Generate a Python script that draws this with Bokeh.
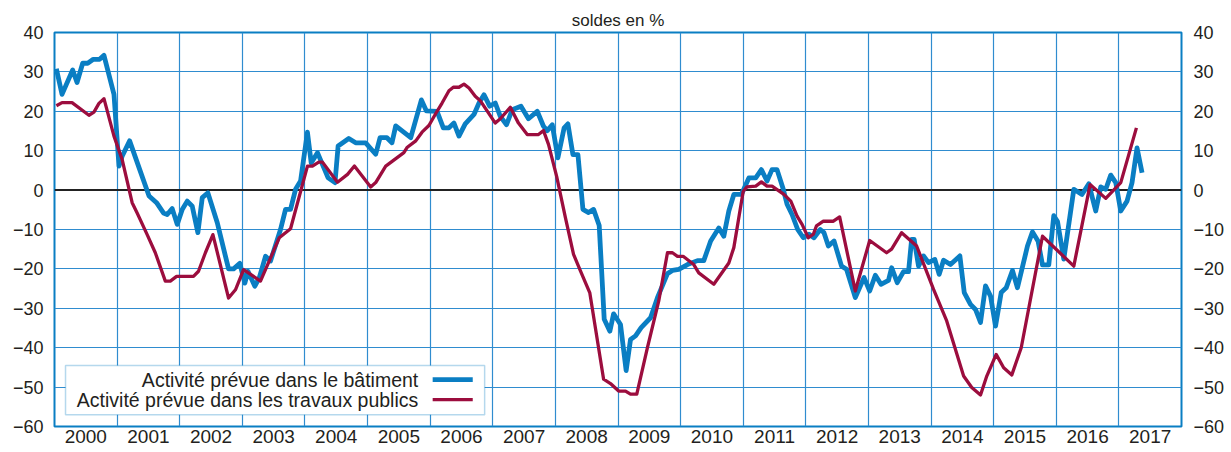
from bokeh.plotting import figure
from bokeh.models import Range1d, FixedTicker, Label, BoxAnnotation, Span, LinearAxis
from bokeh.embed import file_html
from bokeh.resources import INLINE

# ---------------- data ----------------
years = list(range(2000, 2018))
year_labels = [str(y) for y in years]
y_ticks = [40, 30, 20, 10, 0, -10, -20, -30, -40, -50, -60]
y_tick_labels = ["40", "30", "20", "10", "0", "\u221210", "\u221220", "\u221230", "\u221240", "\u221250", "\u221260"]
unit_label = "soldes en %"
legend_labels = ["Activit\u00e9 pr\u00e9vue dans le b\u00e2timent",
                 "Activit\u00e9 pr\u00e9vue dans les travaux publics"]

# Activité prévue dans le bâtiment (date as decimal year, balance in %)
blue_t = [2000.03, 2000.12, 2000.29, 2000.36, 2000.45, 2000.53, 2000.62, 2000.72, 2000.79, 2000.95,
          2001.03, 2001.08, 2001.20, 2001.35, 2001.51, 2001.63, 2001.74, 2001.80, 2001.88, 2001.96,
          2002.04, 2002.12, 2002.20, 2002.29, 2002.36, 2002.45, 2002.60, 2002.78, 2002.86, 2002.96,
          2003.04, 2003.09, 2003.20, 2003.27, 2003.37, 2003.45, 2003.61, 2003.69, 2003.77, 2003.85, 2003.93,
          2004.04, 2004.10, 2004.20, 2004.37, 2004.48, 2004.53, 2004.70, 2004.81, 2004.97,
          2005.13, 2005.20, 2005.31, 2005.39, 2005.45, 2005.69, 2005.86, 2005.94,
          2006.11, 2006.21, 2006.30, 2006.38, 2006.46, 2006.56, 2006.70, 2006.78, 2006.86, 2006.95,
          2007.04, 2007.12, 2007.22, 2007.31, 2007.45, 2007.57, 2007.71, 2007.81, 2007.87, 2007.95,
          2008.04, 2008.14, 2008.20, 2008.28, 2008.36, 2008.44, 2008.53, 2008.61, 2008.70, 2008.78, 2008.87, 2008.93,
          2009.04, 2009.13, 2009.20, 2009.28, 2009.37, 2009.52, 2009.63, 2009.79, 2009.87, 2009.97,
          2010.11, 2010.27, 2010.37, 2010.48, 2010.61, 2010.69, 2010.77, 2010.85, 2010.97,
          2011.09, 2011.20, 2011.29, 2011.38, 2011.46, 2011.54, 2011.64, 2011.70, 2011.78, 2011.87, 2011.96,
          2012.05, 2012.13, 2012.23, 2012.29, 2012.36, 2012.45, 2012.57, 2012.65, 2012.79, 2012.93,
          2013.02, 2013.11, 2013.20, 2013.32, 2013.37, 2013.46, 2013.56, 2013.64, 2013.69, 2013.73, 2013.80, 2013.88, 2013.96,
          2014.06, 2014.13, 2014.20, 2014.31, 2014.46, 2014.53, 2014.63, 2014.71, 2014.79, 2014.87, 2014.95,
          2015.03, 2015.12, 2015.20, 2015.30, 2015.38, 2015.54, 2015.62, 2015.71, 2015.78, 2015.88, 2015.96,
          2016.02, 2016.12, 2016.28, 2016.41, 2016.52, 2016.63, 2016.71, 2016.79, 2016.87, 2016.95,
          2017.03, 2017.13, 2017.21, 2017.29, 2017.37]
blue_v = [30.8, 24.3, 30.5, 27.3, 32.2, 32.2, 33.2, 33.2, 34.2, 24.3,
          6.1, 8.6, 12.5, 5.7, -1.5, -3.2, -5.8, -6.2, -4.7, -8.7,
          -4.9, -2.8, -4.1, -10.8, -1.9, -0.7, -8.3, -20.0, -20.0, -18.6,
          -23.6, -20.6, -24.4, -22.3, -16.8, -18.0, -10.0, -4.9, -4.9, 0.2, 2.3,
          14.7, 6.9, 9.5, 3.1, 1.9, 11.2, 13.1, 12.0, 12.0,
          9.1, 13.3, 13.3, 12.0, 16.3, 13.3, 22.9, 20.1,
          20.0, 15.8, 15.8, 17.0, 13.7, 16.8, 19.2, 22.1, 24.2, 21.3,
          22.1, 18.7, 16.6, 20.4, 21.3, 18.1, 20.0, 16.2, 15.1, 16.6,
          8.2, 15.8, 16.8, 9.0, 9.0, -4.9, -5.7, -4.9, -9.0, -32.8, -35.8, -31.4,
          -34.1, -45.8, -37.9, -37.0, -34.9, -32.4, -27.3, -21.2, -20.4, -20.1,
          -18.9, -17.9, -17.9, -12.9, -9.6, -11.7, -5.3, -1.1, -1.1,
          3.1, 3.1, 5.2, 2.3, 5.2, 5.2, 0.2, -3.6, -6.2, -10.0, -12.1,
          -11.2, -12.1, -10.0, -10.8, -14.2, -12.9, -19.3, -20.1, -27.3, -22.2,
          -25.6, -21.6, -23.9, -22.9, -19.7, -23.5, -20.7, -20.7, -12.5, -12.5, -19.3, -16.7, -18.4,
          -17.6, -21.4, -17.8, -18.9, -16.7, -26.0, -29.0, -30.3, -33.6, -24.3, -26.9,
          -34.5, -26.0, -24.8, -20.4, -24.8, -14.2, -10.6, -13.0, -19.0, -19.0, -6.5,
          -8.0, -17.5, 0.2, -1.1, 1.6, -5.3, 0.8, 0.2, 3.8, 1.9,
          -5.3, -2.8, 1.9, 10.7, 4.4]

# Activité prévue dans les travaux publics
red_t = [2000.03, 2000.12, 2000.28, 2000.55, 2000.63, 2000.71, 2000.79, 2000.95,
         2001.08, 2001.24, 2001.32, 2001.48, 2001.61, 2001.77, 2001.85, 2001.95,
         2002.22, 2002.30, 2002.41, 2002.53, 2002.78, 2002.89,
         2003.02, 2003.29, 2003.59, 2003.77,
         2004.04, 2004.12, 2004.22, 2004.28, 2004.52, 2004.68, 2004.79,
         2005.05, 2005.13, 2005.29, 2005.58, 2005.63, 2005.77, 2005.87, 2005.98,
         2006.11, 2006.19, 2006.30, 2006.37, 2006.46, 2006.54, 2006.62, 2006.72, 2006.80,
         2007.04, 2007.12, 2007.28, 2007.41, 2007.55, 2007.73, 2007.81, 2007.89,
         2008.02, 2008.16, 2008.29, 2008.40, 2008.55, 2008.77, 2008.88,
         2009.01, 2009.12, 2009.20, 2009.30, 2009.47, 2009.65, 2009.79, 2009.87, 2009.95,
         2010.04, 2010.21, 2010.29, 2010.53, 2010.77, 2010.85,
         2011.00, 2011.06, 2011.20, 2011.29, 2011.38, 2011.46, 2011.65, 2011.76, 2011.86, 2011.94,
         2012.04, 2012.12, 2012.17, 2012.28, 2012.44, 2012.54, 2012.79,
         2013.02, 2013.29, 2013.37, 2013.53, 2013.77,
         2014.04, 2014.25, 2014.52, 2014.65, 2014.79, 2014.89,
         2015.04, 2015.16, 2015.29, 2015.44, 2015.78,
         2016.28, 2016.54, 2016.79, 2017.03, 2017.28]
red_v = [21.4, 22.2, 22.2, 19.0, 19.8, 22.0, 23.2, 13.7,
         7.8, -3.2, -5.8, -11.3, -15.9, -23.1, -23.1, -21.9,
         -21.9, -20.6, -15.9, -11.3, -27.4, -25.3,
         -20.2, -23.1, -12.1, -9.8,
         6.1, 6.1, 7.1, 7.1, 2.0, 4.0, 6.1,
         0.8, 1.9, 6.1, 9.5, 10.8, 12.5, 14.7, 16.4,
         20.0, 22.1, 25.2, 26.1, 26.1, 26.9, 25.9, 23.8, 22.7,
         17.0, 18.1, 21.0, 17.0, 14.1, 14.1, 15.1, 11.6,
         3.5, -7.0, -16.3, -20.5, -26.1, -48.0, -49.1,
         -51.0, -51.0, -51.8, -51.8, -40.0, -28.2, -15.9, -15.9, -16.8,
         -16.8, -18.9, -21.0, -23.9, -18.5, -14.6,
         -0.3, 0.8, 1.0, 2.1, 1.0, 1.0, -1.1, -2.8, -6.6, -8.7,
         -12.1, -11.2, -9.1, -7.9, -7.9, -6.8, -25.6,
         -12.8, -15.9, -15.0, -10.8, -14.2,
         -25.2, -33.2, -47.2, -50.1, -52.0, -47.2,
         -41.7, -45.1, -46.9, -40.0, -11.7,
         -19.3, 1.4, -2.1, 1.9, 15.8]

# ---------------- style ----------------
BLUE = "#0a7ec3"
GRID = "#2f8ccf"
RED = "#9c0d3e"
TXT = "#231f20"
FONT = "Liberation Sans"

p = figure(width=1231, height=452,
           x_range=Range1d(2000, 2018), y_range=Range1d(-60, 40),
           output_backend="svg", toolbar_location=None,
           min_border_left=54, min_border_right=50,
           min_border_top=32, min_border_bottom=26)
p.background_fill_color = "white"
p.border_fill_color = "white"
p.outline_line_color = BLUE
p.outline_line_width = 2

# unit label as centred title
p.title.text = unit_label
p.title.align = "center"
p.title.text_font = FONT
p.title.text_font_size = "17px"
p.title.text_font_style = "normal"
p.title.text_color = TXT
p.title.standoff = 5

# grids
p.xgrid.ticker = FixedTicker(ticks=years + [2018])
p.ygrid.ticker = FixedTicker(ticks=y_ticks)
for g in (p.xgrid, p.ygrid):
    g.grid_line_color = GRID
    g.grid_line_width = 1.2
    g.grid_line_alpha = 1.0

# x axis: year labels centred within each year
xa = p.xaxis[0]
xa.ticker = FixedTicker(ticks=[y + 0.5 for y in years])
xa.major_label_overrides = {y + 0.5: lab for y, lab in zip(years, year_labels)}
xa.axis_line_color = None
xa.major_tick_line_color = None
xa.minor_tick_line_color = None
xa.major_tick_out = 0
xa.major_tick_in = 0
xa.major_label_standoff = 3
xa.major_label_text_font = FONT
xa.major_label_text_font_size = "19px"
xa.major_label_text_color = TXT


def style_y(ax, standoff):
    ax.ticker = FixedTicker(ticks=y_ticks)
    ax.major_label_overrides = {v: lab for v, lab in zip(y_ticks, y_tick_labels)}
    ax.axis_line_color = None
    ax.major_tick_line_color = None
    ax.minor_tick_line_color = None
    ax.major_tick_out = 0
    ax.major_tick_in = 0
    ax.major_label_standoff = standoff
    ax.major_label_text_font = FONT
    ax.major_label_text_font_size = "18px"
    ax.major_label_text_color = TXT


style_y(p.yaxis[0], 11)
right_axis = LinearAxis()
style_y(right_axis, 12)
p.add_layout(right_axis, "right")

# zero line
p.add_layout(Span(location=0, dimension="width", line_color="#222222",
                  line_width=2, level="underlay"))

# series
p.line(blue_t, blue_v, line_color=BLUE, line_width=4.8, line_join="round")
p.line(red_t, red_v, line_color=RED, line_width=3.3, line_join="round")

# legend (text left, line sample on the right)
p.add_layout(BoxAnnotation(left=2000.176, right=2006.87, top=-44.5, bottom=-57.0,
                           fill_color="white", fill_alpha=1.0,
                           line_color=BLUE, line_width=1.5))
leg_y = [-48.1, -53.2]
leg_col = [BLUE, RED]
leg_w = [4.8, 3.3]
for lab, yy, c, w in zip(legend_labels, leg_y, leg_col, leg_w):
    p.add_layout(Label(x=2005.81, y=yy, text=lab, text_align="right", text_baseline="middle",
                       text_font=FONT, text_font_size="19.5px", text_color=TXT))
seg = p.segment(x0=[2006.04, 2006.04], y0=leg_y, x1=[2006.68, 2006.68], y1=leg_y,
                line_color=leg_col, line_width=leg_w)
seg.level = "overlay"

open("out.html", "w").write(file_html(p, INLINE))
